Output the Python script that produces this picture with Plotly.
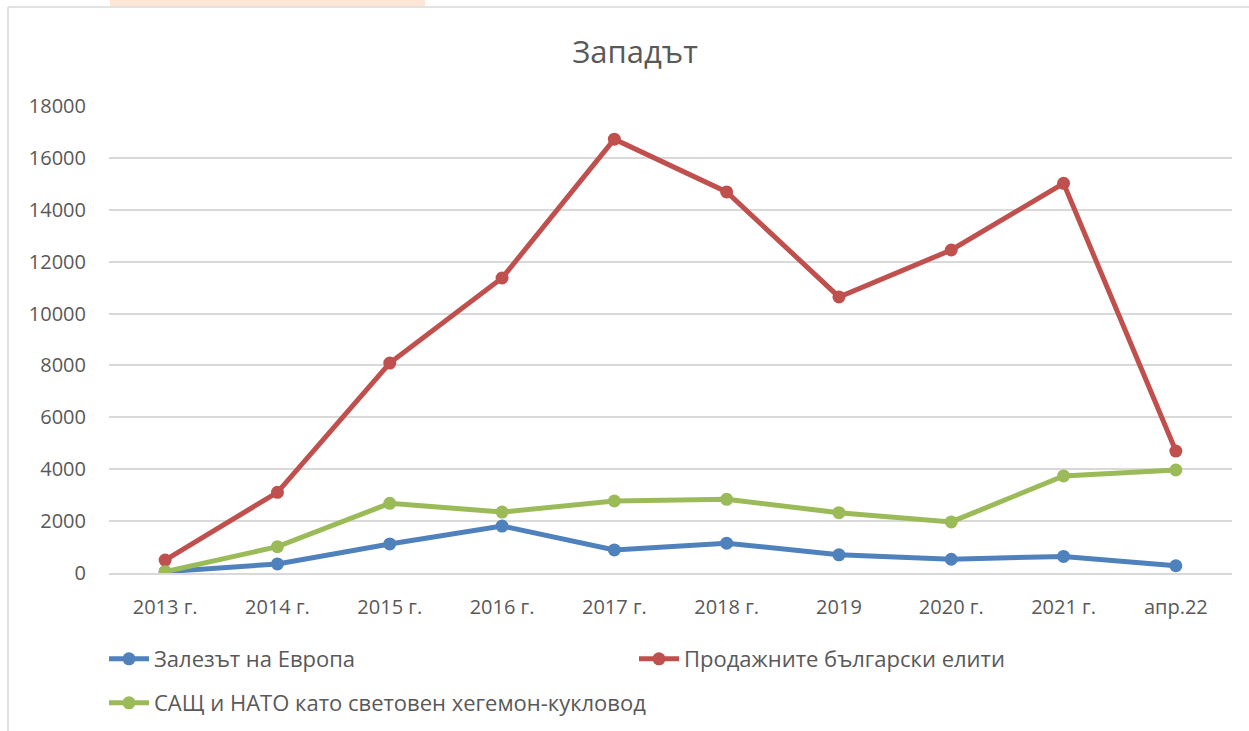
import plotly.graph_objects as go

categories = ["2013 г.", "2014 г.", "2015 г.", "2016 г.", "2017 г.", "2018 г.", "2019", "2020 г.", "2021 г.", "апр.22"]
europe = [50, 350, 1120, 1810, 890, 1150, 700, 530, 640, 280]
elites = [500, 3110, 8090, 11370, 16720, 14690, 10640, 12450, 15020, 4700]
usa_nato = [50, 1015, 2685, 2350, 2775, 2840, 2325, 1970, 3740, 3970]

names = ["Залезът на Европа", "Продажните български елити", "САЩ и НАТО като световен хегемон-кукловод"]
colors = ["#4f81bd", "#c0504d", "#9bbb59"]
legend_ids = ["legend", "legend2", "legend3"]

FONT = "Open Sans, Noto Sans, sans-serif"

fig = go.Figure()
for name, vals, col, lg in zip(names, [europe, elites, usa_nato], colors, legend_ids):
    fig.add_trace(go.Scatter(
        x=categories, y=vals, name=name, mode="lines+markers",
        line=dict(color=col, width=5),
        marker=dict(color=col, size=13),
        legend=lg,
    ))

W, H = 1249, 731
L, R, T, B = 109, 17, 106, 158
pw, ph = W - L - R, H - T - B

def px_x(px):
    return (px - L) / pw

def px_y(py):
    return (H - B - py) / ph

def legend_at(xpx, ypx):
    return dict(orientation="h", x=px_x(xpx), xanchor="left", y=px_y(ypx), yanchor="middle",
                font=dict(size=22, color="#595959", family=FONT), itemwidth=40,
                bgcolor="rgba(0,0,0,0)", borderwidth=0)

fig.update_layout(
    width=W, height=H,
    margin=dict(l=L, r=R, t=T, b=B, autoexpand=False),
    paper_bgcolor="white", plot_bgcolor="white",
    font=dict(family=FONT, color="#595959", size=20),
    title=dict(text="Западът", xref="paper", x=px_x(635), xanchor="center", y=1 - 52 / H, yanchor="middle",
               font=dict(size=31, color="#595959", family=FONT)),
    xaxis=dict(type="category", range=[-0.5, len(categories) - 0.5], autorange=False,
               showgrid=False, showline=True, linecolor="#d9d9d9", linewidth=1.5, automargin=False,
               tickfont=dict(size=20, color="#595959"), ticks="", ticklabelstandoff=15),
    yaxis=dict(range=[0, 18000], dtick=2000, tickformat="d", showgrid=True, automargin=False,
               gridcolor="#d9d9d9", gridwidth=1.5,
               zeroline=False, showline=False, tickfont=dict(size=20, color="#595959"),
               ticks="", ticklabelstandoff=22),
    legend=legend_at(104, 659),
    legend2=legend_at(634, 659),
    legend3=legend_at(104, 703),
    showlegend=True,
    shapes=[
        dict(type="rect", xref="paper", yref="paper",
             x0=px_x(110), x1=px_x(425), y0=px_y(6), y1=px_y(-2),
             fillcolor="#fde6d6", line=dict(width=0), layer="below"),
        dict(type="line", xref="paper", yref="paper",
             x0=px_x(8), x1=px_x(1260), y0=px_y(7), y1=px_y(7),
             line=dict(color="#d9d9d9", width=1.5)),
        dict(type="line", xref="paper", yref="paper",
             x0=px_x(8), x1=px_x(8), y0=px_y(7), y1=px_y(740),
             line=dict(color="#d9d9d9", width=1.5)),
    ],
)

fig.write_html("out.html", config={"displayModeBar": False},
               post_script="document.body.style.margin='0';document.body.style.overflow='hidden';")
